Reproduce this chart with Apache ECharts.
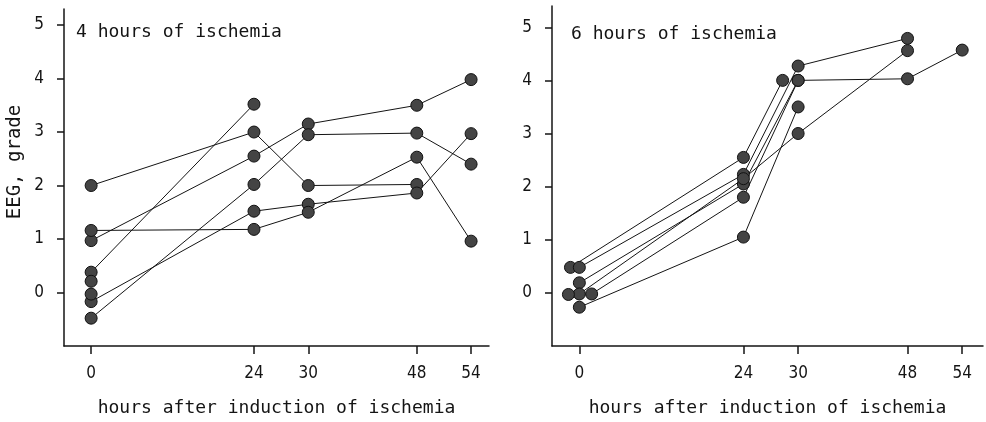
<!DOCTYPE html>
<html><head><meta charset="utf-8">
<script src="https://cdn.jsdelivr.net/npm/echarts@6/dist/echarts.min.js"></script>
<style>html,body{margin:0;padding:0;background:#fff}#c{width:986px;height:422px}</style>
</head><body><div id="c"></div>
<script>
// ---- tick labels / axis layout (time axis is drawn with uneven, broken spacing) ----
const tickHours = [0, 24, 30, 48, 54];
const tickSlots = [0, 3, 4, 6, 7];
const yTicks = [0, 1, 2, 3, 4, 5];
const panelTitles = ['4 hours of ischemia', '6 hours of ischemia'];
const xName = 'hours after induction of ischemia';
const yName = 'EEG, grade';

// ---- left panel: 4 hours of ischemia  [hour, grade] ----
const left1 = [[0, 2.0], [24, 3.0], [30, 2.0], [48, 2.02]];
const left2 = [[0, 0.97], [24, 2.55], [30, 3.15], [48, 3.5], [54, 3.98]];
const left3 = [[0, -0.48], [24, 2.02], [30, 2.95], [48, 2.98], [54, 2.4]];
const left4 = [[0, -0.17], [24, 1.52], [30, 1.65], [48, 1.86], [54, 2.97]];
const left5 = [[0, 1.16], [24, 1.18], [30, 1.5], [48, 2.53], [54, 0.96]];
const left6 = [[0, 0.38], [24, 3.52]];
const left7 = [[0, 0.21]];
const left8 = [[0, -0.03]];

// ---- right panel: 6 hours of ischemia  [hour, grade] ----
const right1 = [[-1.3, 0.48], [24, 2.55], [28.3, 4.0]];
const right2 = [[0, 0.48], [24, 2.23], [30, 4.27], [48, 4.79]];
const right3 = [[0, 0.19], [24, 2.05], [30, 4.0], [48, 4.03], [54, 4.57]];
const right4 = [[1.8, -0.02], [24, 1.8], [30, 4.0]];
const right5 = [[0, -0.27], [24, 1.05], [30, 3.5]];
const right6 = [[0, -0.02], [24, 2.15], [30, 3.0], [48, 4.56]];
const right7 = [[-1.6, -0.03]];

const leftSeries = [left1, left2, left3, left4, left5, left6, left7, left8];
const rightSeries = [right1, right2, right3, right4, right5, right6, right7];

// piecewise map of hours onto the broken time axis
function hourToSlot(h) {
  if (h <= tickHours[0]) return tickSlots[0] + (h - tickHours[0]) * (tickSlots[1] - tickSlots[0]) / (tickHours[1] - tickHours[0]);
  for (let i = 1; i < tickHours.length; i++) {
    if (h <= tickHours[i]) {
      return tickSlots[i - 1] + (h - tickHours[i - 1]) * (tickSlots[i] - tickSlots[i - 1]) / (tickHours[i] - tickHours[i - 1]);
    }
  }
  const n = tickHours.length - 1;
  return tickSlots[n] + (h - tickHours[n]) * (tickSlots[n] - tickSlots[n - 1]) / (tickHours[n] - tickHours[n - 1]);
}
function slotLabel(v) {
  const i = tickSlots.indexOf(Math.round(v));
  return i >= 0 ? String(tickHours[i]) : '';
}

const ink = '#141414';
const monoFont = '"DejaVu Sans Mono", "Liberation Mono", monospace';
const tickFont = '"DejaVu Sans Condensed", "DejaVu Sans", sans-serif';

function xAxisFor(gi, max) {
  return {
    gridIndex: gi, type: 'value', min: -0.5, max: max,
    axisLine: { show: true, onZero: false, lineStyle: { color: ink, width: 1.5 } },
    axisTick: { show: true, length: 8, customValues: tickSlots, lineStyle: { color: ink, width: 1.5 } },
    axisLabel: { customValues: tickSlots, formatter: slotLabel, margin: 19, color: ink, fontSize: 17, fontFamily: tickFont },
    splitLine: { show: false },
    name: xName, nameLocation: 'middle', nameGap: 53,
    nameTextStyle: { color: ink, fontSize: 18, fontFamily: monoFont }
  };
}
function yAxisFor(gi, max) {
  return {
    gridIndex: gi, type: 'value', min: -1, max: max,
    axisLine: { show: true, onZero: false, lineStyle: { color: ink, width: 1.5 } },
    axisTick: { show: true, length: 7, customValues: yTicks, lineStyle: { color: ink, width: 1.5 } },
    axisLabel: { customValues: yTicks, margin: 20, color: ink, fontSize: 17, fontFamily: tickFont },
    splitLine: { show: false }
  };
}
function mkSeries(arr, gi) {
  return arr.map(d => ({
    type: 'line', xAxisIndex: gi, yAxisIndex: gi,
    data: d.map(([h, v]) => [hourToSlot(h), v]),
    symbol: 'circle', symbolSize: 12, showSymbol: true,
    itemStyle: { color: '#444', borderColor: '#111', borderWidth: 1 },
    lineStyle: { color: ink, width: 1 },
    emphasis: { disabled: true }, animation: false, z: 3
  }));
}

const chart = echarts.init(document.getElementById('c'), null, { renderer: 'canvas' });
chart.setOption({
  backgroundColor: '#fff',
  animation: false,
  grid: [
    { left: 64, top: 9, width: 425, height: 340 },
    { left: 552, top: 6, width: 431, height: 342 }
  ],
  xAxis: [xAxisFor(0, 7.33), xAxisFor(1, 7.38)],
  yAxis: [yAxisFor(0, 5.3), yAxisFor(1, 5.4)],
  series: [...mkSeries(leftSeries, 0), ...mkSeries(rightSeries, 1)],
  graphic: [
    { type: 'text', left: 76, top: 23, style: { text: panelTitles[0], fill: ink, font: '18px ' + monoFont } },
    { type: 'text', left: 571, top: 25, style: { text: panelTitles[1], fill: ink, font: '18px ' + monoFont } },
    { type: 'text', x: 15, y: 162, rotation: Math.PI / 2,
      style: { text: yName, fill: ink, font: '19px ' + monoFont, align: 'center', verticalAlign: 'middle' } }
  ]
});
</script>
</body></html>
